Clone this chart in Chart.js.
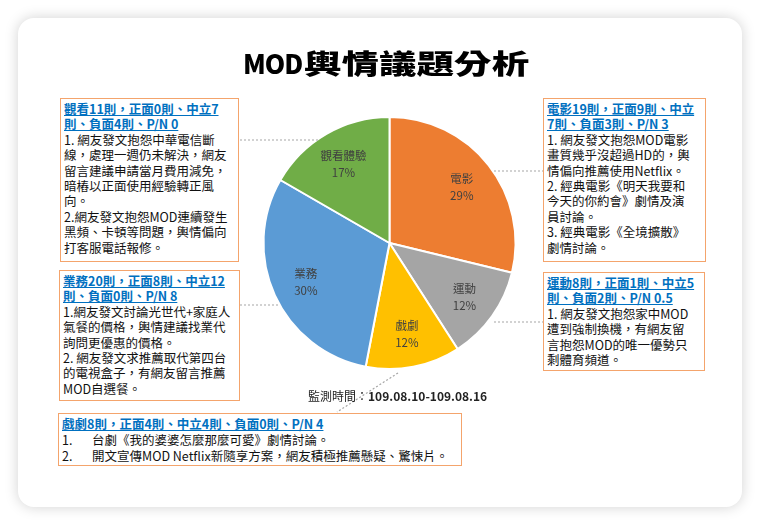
<!DOCTYPE html>
<html lang="zh-Hant-TW">
<head>
<meta charset="utf-8">
<script src="https://cdn.jsdelivr.net/npm/chart.js@4/dist/chart.umd.min.js"></script>
<style>
  body { margin: 0; width: 760px; height: 525px; position: relative; overflow: hidden; background: #fff;
         font-family: "Noto Sans CJK TC", "Noto Sans", sans-serif; font-feature-settings: "locl" 1; }
  #card { position: absolute; left: 18px; top: 18px; width: 724px; height: 489px; background: #fff;
          border-radius: 16px; box-shadow: 0 0 14px rgba(0,0,0,0.18); }
  #pie { position: absolute; left: 0; top: 0; }
  #links { position: absolute; left: 0; top: 0; }
  .title { position: absolute; left: 243px; top: 45px; font-size: 27px; font-weight: 900; color: #000;
           white-space: nowrap; line-height: 36px; }
  .title .en { font-size: 26px; letter-spacing: -1px; }
  .title .zh { display: inline-block; transform: scaleX(1.39); transform-origin: left center; margin-left: 2px; }
  .box { position: absolute; border: 1.5px solid #F4A46C; box-sizing: border-box; padding: 2px 0 0 3px;
         font-size: 12.5px; line-height: 15.4px; color: #111; white-space: nowrap; background: #fff; }
  .hd { color: #0070C0; font-weight: bold; text-decoration: underline; }
  .num { display: inline-block; width: 30px; }
  .period { position: absolute; left: 308px; top: 387px; font-size: 12px; color: #222; white-space: nowrap; }
  .period b { font-weight: bold; }
</style>
</head>
<body>
<div id="card"></div>
<canvas id="pie" width="760" height="525"></canvas>
<svg id="links" width="760" height="525">
  <g stroke="#A6A6A6" stroke-width="1.2" stroke-dasharray="2 2" fill="none">
    <line x1="240" y1="140" x2="318" y2="140"/>
    <line x1="240" y1="305" x2="278" y2="305"/>
    <line x1="494" y1="171" x2="543" y2="171"/>
    <line x1="494" y1="322" x2="543" y2="322"/>
    <line x1="398" y1="373" x2="337" y2="412"/>
  </g>
</svg>

<div class="title"><span class="en">MOD</span><span class="zh">輿情議題分析</span></div>

<div class="box" style="left:60px;top:98px;width:179px;height:164px;">
  <span class="hd">觀看11則，正面0則、中立7</span><br>
  <span class="hd">則、負面4則、P/N 0</span><br>
  1. 網友發文抱怨中華電信斷<br>
  線，處理一週仍未解決，網友<br>
  留言建議申請當月費用減免，<br>
  暗樁以正面使用經驗轉正風<br>
  向。<br>
  2.網友發文抱怨MOD連續發生<br>
  黑頻、卡頓等問題，輿情偏向<br>
  打客服電話報修。
</div>

<div class="box" style="left:543px;top:98px;width:163px;height:164px;">
  <span class="hd">電影19則，正面9則、中立</span><br>
  <span class="hd">7則、負面3則、P/N 3</span><br>
  1. 網友發文抱怨MOD電影<br>
  畫質幾乎沒超過HD的，輿<br>
  情偏向推薦使用Netflix。<br>
  2. 經典電影《明天我要和<br>
  今天的你約會》劇情及演<br>
  員討論。<br>
  3. 經典電影《全境擴散》<br>
  劇情討論。
</div>

<div class="box" style="left:59px;top:270px;width:181px;height:131px;">
  <span class="hd">業務20則，正面8則、中立12</span><br>
  <span class="hd">則、負面0則、P/N 8</span><br>
  1.網友發文討論光世代+家庭人<br>
  氣餐的價格，輿情建議找業代<br>
  詢問更優惠的價格。<br>
  2. 網友發文求推薦取代第四台<br>
  的電視盒子，有網友留言推薦<br>
  MOD自選餐。
</div>

<div class="box" style="left:543px;top:272px;width:162px;height:99px;">
  <span class="hd">運動8則，正面1則、中立5</span><br>
  <span class="hd">則、負面2則、P/N 0.5</span><br>
  1. 網友發文抱怨家中MOD<br>
  遭到強制換機，有網友留<br>
  言抱怨MOD的唯一優勢只<br>
  剩體育頻道。
</div>

<div class="box" style="left:58px;top:413px;width:404px;height:53px;line-height:16px;">
  <span class="hd">戲劇8則，正面4則、中立4則、負面0則、P/N 4</span><br>
  <span class="num">1.</span>台劇《我的婆婆怎麼那麼可愛》劇情討論。<br>
  <span class="num">2.</span>開文宣傳MOD Netflix新隨享方案，網友積極推薦懸疑、驚悚片。
</div>

<div class="period">監測時間：<b>109.08.10-109.08.16</b></div>

<script>
// 各類別則數 (監測時間 109.08.10-109.08.16)
const categories = ["電影", "運動", "戲劇", "業務", "觀看體驗"];
const counts = [19, 8, 8, 20, 11];

// slice labels: name on top, share below
const sliceLabels = {
  id: "sliceLabels",
  afterDatasetsDraw(chart) {
    const ctx = chart.ctx;
    const meta = chart.getDatasetMeta(0);
    const total = counts.reduce((a, b) => a + b, 0);
    ctx.save();
    ctx.fillStyle = "#404040";
    ctx.textAlign = "center";
    ctx.textBaseline = "middle";
    ctx.font = '11.5px "Noto Sans CJK TC"';
    meta.data.forEach((arc, i) => {
      const p = arc.getProps(["x", "y", "startAngle", "endAngle", "outerRadius"], true);
      const a = (p.startAngle + p.endAngle) / 2;
      const r = p.outerRadius * 0.73;
      const x = p.x + Math.cos(a) * r;
      const y = p.y + Math.sin(a) * r;
      ctx.fillText(categories[i], x, y - 8);
      ctx.fillText(Math.round(counts[i] / total * 100) + "%", x, y + 9);
    });
    ctx.restore();
  }
};

new Chart(document.getElementById("pie").getContext("2d"), {
  type: "pie",
  data: {
    labels: categories,
    datasets: [{
      data: counts,
      backgroundColor: ["#ED7D31", "#A5A5A5", "#FFC000", "#5B9BD5", "#70AD47"],
      borderColor: "#ffffff",
      borderWidth: 2
    }]
  },
  options: {
    responsive: false,
    animation: false,
    layout: { padding: { left: 262, right: 243, top: 116, bottom: 155 } },
    plugins: { legend: { display: false }, tooltip: { enabled: false } }
  },
  plugins: [sliceLabels]
});
</script>
</body>
</html>
